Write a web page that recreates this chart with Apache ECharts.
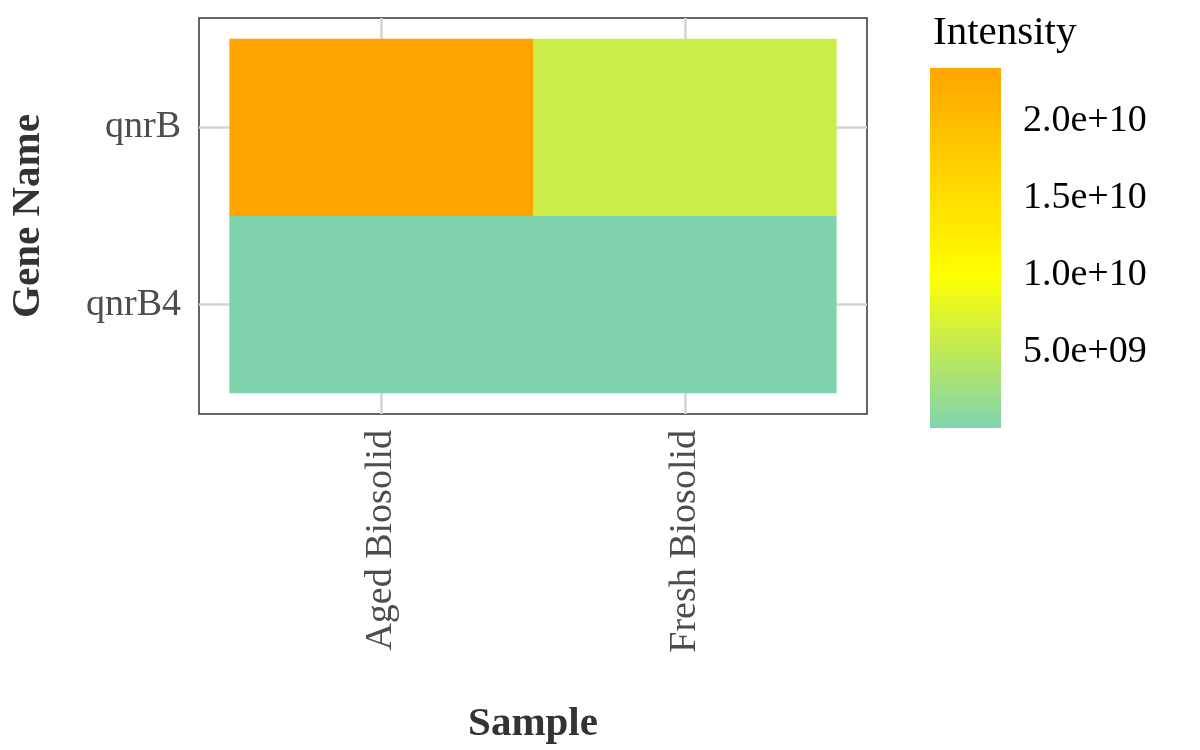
<!DOCTYPE html>
<html><head><meta charset="utf-8">
<script src="https://cdn.jsdelivr.net/npm/echarts@6/dist/echarts.min.js"></script>
<style>html,body{margin:0;background:#fff}#c{width:1200px;height:750px}</style>
</head><body><div id="c"></div>
<script>
const samples = ['Aged Biosolid', 'Fresh Biosolid'];
const genes = ['qnrB4', 'qnrB'];
// [sampleIndex, geneIndex, intensity]
const values = [
  [0, 1, 2.34e10],
  [1, 1, 6.0e9],
  [0, 0, 1.2e8],
  [1, 0, 1.0e8]
];
const legendTicks = [5e9, 1e10, 1.5e10, 2e10];
const vmin = 1.0e8, vmax = 2.34e10;

function lerp(a,b,t){return Math.round(a+(b-a)*t);}
const c0=[127,212,174], c1=[255,255,0], c2=[255,165,0];
const midFrac = (1e10 - vmin)/(vmax - vmin);
const colors=[];
for(let i=0;i<=60;i++){
  const f=i/60; let a,b,t;
  if(f<=midFrac){a=c0;b=c1;t=f/midFrac;} else {a=c1;b=c2;t=(f-midFrac)/(1-midFrac);}
  colors.push('rgb('+lerp(a[0],b[0],t)+','+lerp(a[1],b[1],t)+','+lerp(a[2],b[2],t)+')');
}
const font='Liberation Serif';
const fmt=v=>{const e=Math.floor(Math.log10(v));const m=v/Math.pow(10,e);return m.toFixed(1)+'e+'+(e<10?'0'+e:e);};
const chart=echarts.init(document.getElementById('c'));
chart.setOption({
  animation:false,
  grid:[
    {left:191,top:18,width:676,height:400,show:true,borderColor:'#333',borderWidth:1.5,backgroundColor:'#fff'},
    {left:930,top:68,width:71,height:360,show:false}
  ],
  xAxis:[
    {gridIndex:0,type:'value',min:-0.6,max:1.6,
      axisLine:{show:true,lineStyle:{color:'rgba(0,0,0,0)',width:0}},splitLine:{show:false},
      axisTick:{show:true,customValues:[0,1],length:10,lineStyle:{color:'#333',width:3}},
      axisLabel:{customValues:[0,1],rotate:90,formatter:v=>samples[Math.round(v)],color:'#4D4D4D',fontFamily:font,fontSize:38,margin:16},
      name:'Sample',nameLocation:'middle',nameGap:290,nameTextStyle:{fontFamily:font,fontSize:41,fontWeight:'bold',color:'#333'}},
    {gridIndex:1,type:'value',show:false,min:0,max:1}
  ],
  yAxis:[
    {gridIndex:0,type:'value',min:-0.6167,max:1.6167,
      axisLine:{show:true,lineStyle:{color:'rgba(0,0,0,0)',width:0}},splitLine:{show:false},
      axisTick:{show:true,customValues:[0,1],length:10,lineStyle:{color:'#333',width:3}},
      axisLabel:{customValues:[0,1],formatter:v=>genes[Math.round(v)],color:'#4D4D4D',fontFamily:font,fontSize:38,margin:18},
      name:'Gene Name',nameLocation:'middle',nameGap:150,nameTextStyle:{fontFamily:font,fontSize:41,fontWeight:'bold',color:'#333'}},
    {gridIndex:1,type:'value',position:'right',min:vmin,max:vmax,
      axisLine:{show:true,lineStyle:{color:'rgba(0,0,0,0)',width:0}},splitLine:{show:false},
      axisTick:{show:true,customValues:legendTicks,inside:true,length:14,lineStyle:{color:'#fff',width:1.5}},
      axisLabel:{customValues:legendTicks,formatter:fmt,color:'#000',fontFamily:font,fontSize:38,margin:22}}
  ],
  visualMap:{type:'continuous',show:false,min:vmin,max:vmax,dimension:2,seriesIndex:1,inRange:{color:colors}},
  title:{text:'Intensity',left:928,top:8,textStyle:{fontFamily:font,fontSize:41,fontWeight:'normal',color:'#000'}},
  graphic:[{type:'rect',left:930,top:68,shape:{width:71,height:360},z:0,
    style:{fill:new echarts.graphic.LinearGradient(0,1,0,0,colors.map((c,i)=>({offset:i/(colors.length-1),color:c})))}}],
  series:[
    {type:'line',xAxisIndex:0,yAxisIndex:0,data:[],z:1,
      markLine:{silent:true,symbol:'none',label:{show:false},lineStyle:{color:'#d4d4d4',width:2.5,type:'solid'},
        data:[{xAxis:0},{xAxis:1},{yAxis:0},{yAxis:1}]}},
    {type:'custom',xAxisIndex:0,yAxisIndex:0,zlevel:1,data:values,
      renderItem:(params,api)=>{
        const x=api.value(0),y=api.value(1);
        const p1=api.coord([x-0.5,y+0.5]),p2=api.coord([x+0.5,y-0.5]);
        return {type:'rect',shape:{x:p1[0],y:p1[1],width:p2[0]-p1[0],height:p2[1]-p1[1]},style:{fill:api.visual('color')}};
      }}
  ]
});
</script></body></html>
